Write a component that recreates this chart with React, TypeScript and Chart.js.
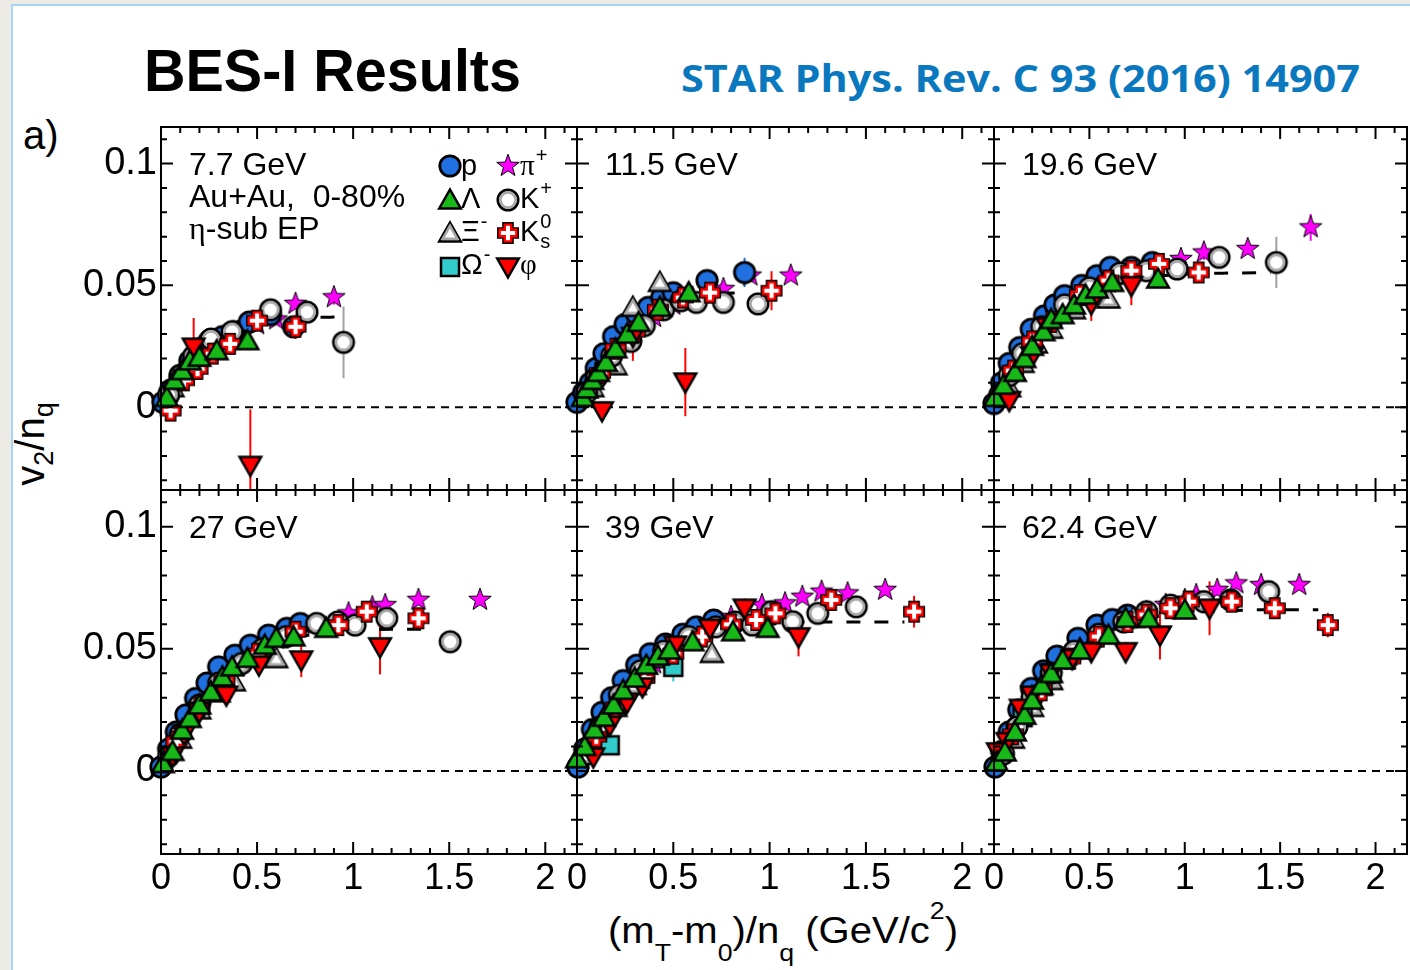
import React, { useEffect, useRef } from 'react';
import { Chart, registerables } from 'chart.js';

Chart.register(...registerables);

type Pt = number[]; // [x, v2/nq, error?]

// ---------------- axis / labels ----------------
const X_MIN = 0;
const X_MAX = 2.165;
const Y_MIN = -0.034;
const Y_MAX = 0.115;
const xTickValues = [0, 0.5, 1, 1.5, 2];
const xTickLabels = ['0', '0.5', '1', '1.5', '2'];
const yTickValues = [0, 0.05, 0.1];
const yTickLabels = ['0', '0.05', '0.1'];
const energyLabels = ['7.7 GeV', '11.5 GeV', '19.6 GeV', '27 GeV', '39 GeV', '62.4 GeV'];

// ---------------- 7.7 GeV ----------------
const proton_7p7: Pt[] = [[0.01, 0.002], [0.05, 0.007], [0.1, 0.013], [0.15, 0.019], [0.2, 0.024], [0.25, 0.027], [0.32, 0.029], [0.38, 0.031], [0.46, 0.035], [0.57, 0.038], [0.69, 0.033]];
const lambda_7p7: Pt[] = [[0.03, 0.004], [0.07, 0.011], [0.11, 0.015], [0.15, 0.019], [0.2, 0.0205], [0.29, 0.0232], [0.45, 0.0273]];
const xi_7p7: Pt[] = [[0.06, 0.008], [0.13, 0.016]];
const omega_7p7: Pt[] = [];
const pion_7p7: Pt[] = [[0.05, 0.006], [0.12, 0.015], [0.2, 0.022], [0.3, 0.028], [0.4, 0.031], [0.5, 0.034], [0.6, 0.036], [0.7, 0.0424, 0.002], [0.9, 0.0451, 0.003]];
const kaon_7p7: Pt[] = [[0.04, 0.005], [0.1, 0.013], [0.17, 0.021], [0.26, 0.028], [0.37, 0.031], [0.57, 0.04, 0.002], [0.76, 0.039, 0.003], [0.95, 0.0266, 0.0147]];
const k0s_7p7: Pt[] = [[0.05, -0.0014, 0.002], [0.12, 0.011], [0.19, 0.0157, 0.003], [0.27, 0.022], [0.36, 0.026], [0.5, 0.0355], [0.7, 0.033, 0.005]];
const phi_7p7: Pt[] = [[0.17, 0.0246, 0.012], [0.465, -0.0239, 0.023]];
const fit_7p7: Pt[] = [[0, 0], [0.1, 0.013], [0.2, 0.022], [0.3, 0.028], [0.4, 0.032], [0.5, 0.0345], [0.6, 0.036], [0.7, 0.0365], [0.8, 0.0368], [0.92, 0.037]];

// ---------------- 11.5 GeV ----------------
const proton_11p5: Pt[] = [[0.0, 0.002], [0.035, 0.006], [0.07, 0.01], [0.1, 0.016], [0.14, 0.022], [0.19, 0.029], [0.25, 0.034], [0.31, 0.038], [0.37, 0.041], [0.44, 0.045], [0.5, 0.047], [0.675, 0.052], [0.87, 0.0553, 0.006]];
const lambda_11p5: Pt[] = [[0.03, 0.004], [0.05, 0.0075], [0.08, 0.011], [0.11, 0.0143], [0.15, 0.0184], [0.2, 0.024], [0.26, 0.03], [0.32, 0.0348], [0.43, 0.041], [0.58, 0.047]];
const xi_11p5: Pt[] = [[0.08, 0.008], [0.2, 0.017], [0.29, 0.041], [0.43, 0.0512, 0.003]];
const omega_11p5: Pt[] = [];
const pion_11p5: Pt[] = [[0.1, 0.013], [0.2, 0.024], [0.3, 0.031], [0.4, 0.037], [0.5, 0.042], [0.6, 0.045], [0.76, 0.0485], [0.9, 0.054], [1.11, 0.054]];
const kaon_11p5: Pt[] = [[0.05, 0.006], [0.1, 0.012], [0.18, 0.021], [0.28, 0.027], [0.35, 0.0335], [0.45, 0.04], [0.54, 0.0437], [0.62, 0.043], [0.76, 0.043], [0.94, 0.0424, 0.003]];
const k0s_11p5: Pt[] = [[0.12, 0.014], [0.2, 0.024], [0.3, 0.031], [0.42, 0.04], [0.55, 0.045], [0.69, 0.047], [1.01, 0.0478, 0.008]];
const phi_11p5: Pt[] = [[0.13, -0.0015, 0.003], [0.29, 0.029, 0.01], [0.5625, 0.0103, 0.014]];
const fit_11p5: Pt[] = [[0, 0], [0.1, 0.016], [0.2, 0.027], [0.3, 0.035], [0.4, 0.04], [0.5, 0.0435], [0.6, 0.0455], [0.7, 0.0465], [0.87, 0.047]];

// ---------------- 19.6 GeV ----------------
const proton_19p6: Pt[] = [[0.0, 0.0015], [0.04, 0.01], [0.08, 0.018], [0.135, 0.0245], [0.195, 0.032], [0.265, 0.0375], [0.32, 0.042], [0.37, 0.0458], [0.46, 0.05], [0.54, 0.054], [0.61, 0.0574], [0.72, 0.0574], [0.83, 0.0594]];
const lambda_19p6: Pt[] = [[0.005, 0.004], [0.05, 0.009], [0.11, 0.0143], [0.16, 0.02], [0.2, 0.025], [0.26, 0.031], [0.3, 0.036], [0.36, 0.038], [0.42, 0.042], [0.48, 0.046], [0.54, 0.0485], [0.62, 0.0512], [0.86, 0.0526, 0.003]];
const xi_19p6: Pt[] = [[0.08, 0.008], [0.15, 0.018], [0.22, 0.026], [0.3, 0.032], [0.42, 0.04], [0.6, 0.0444, 0.004]];
const omega_19p6: Pt[] = [];
const pion_19p6: Pt[] = [[0.1, 0.015], [0.2, 0.027], [0.3, 0.035], [0.4, 0.041], [0.5, 0.047], [0.6, 0.051], [0.7, 0.054], [0.8, 0.057], [0.98, 0.0608], [1.1, 0.0635, 0.003], [1.33, 0.0649], [1.66, 0.0738, 0.0055]];
const kaon_19p6: Pt[] = [[0.03, 0.005], [0.08, 0.013], [0.15, 0.022], [0.25, 0.033], [0.37, 0.042], [0.5, 0.049], [0.66, 0.055], [0.8, 0.056], [0.96, 0.0567], [1.18, 0.0615, 0.002], [1.48, 0.0594, 0.0105]];
const k0s_19p6: Pt[] = [[0.1, 0.015], [0.2, 0.027], [0.3, 0.035], [0.45, 0.046], [0.6, 0.052], [0.72, 0.056], [0.865, 0.0588], [1.073, 0.0553, 0.003]];
const phi_19p6: Pt[] = [[0.08, 0.0027, 0.002], [0.2, 0.021, 0.002], [0.28, 0.033, 0.003], [0.51, 0.0424, 0.007], [0.72, 0.0499, 0.008]];
const fit_19p6: Pt[] = [[0, 0], [0.1, 0.016], [0.2, 0.028], [0.3, 0.037], [0.4, 0.043], [0.5, 0.047], [0.6, 0.05], [0.7, 0.052], [0.8, 0.053], [0.9, 0.054], [1.0, 0.0545], [1.2, 0.055], [1.45, 0.0552]];

// ---------------- 27 GeV ----------------
const proton_27: Pt[] = [[0.0, 0.0016], [0.04, 0.009], [0.08, 0.016], [0.13, 0.023], [0.18, 0.0297], [0.24, 0.036], [0.3, 0.0426], [0.385, 0.0474], [0.465, 0.0515], [0.56, 0.0556], [0.655, 0.0584], [0.725, 0.0604]];
const lambda_27: Pt[] = [[0.01, 0.003], [0.06, 0.008], [0.11, 0.0167], [0.15, 0.0215], [0.2, 0.027], [0.26, 0.0324], [0.32, 0.0385], [0.37, 0.0426], [0.45, 0.0461], [0.54, 0.0515], [0.6, 0.0543], [0.69, 0.0549], [0.86, 0.0584]];
const xi_27: Pt[] = [[0.1, 0.013], [0.2, 0.025], [0.3, 0.032], [0.38, 0.0365], [0.6, 0.046]];
const omega_27: Pt[] = [];
const pion_27: Pt[] = [[0.1, 0.015], [0.2, 0.027], [0.3, 0.036], [0.4, 0.043], [0.5, 0.049], [0.6, 0.054], [0.7, 0.057], [0.8, 0.06], [0.976, 0.0645], [1.1, 0.067], [1.167, 0.0679], [1.34, 0.07], [1.66, 0.07]];
const kaon_27: Pt[] = [[0.04, 0.006], [0.1, 0.015], [0.2, 0.027], [0.3, 0.036], [0.42, 0.044], [0.53, 0.05], [0.65, 0.055], [0.81, 0.0604], [0.92, 0.061], [1.01, 0.0597], [1.175, 0.0625], [1.505, 0.0529, 0.004]];
const k0s_27: Pt[] = [[0.08, 0.012], [0.2, 0.026], [0.33, 0.037], [0.5, 0.048], [0.7, 0.057], [0.923, 0.0597], [1.071, 0.0652, 0.003], [1.34, 0.0625, 0.003]];
const phi_27: Pt[] = [[0.06, 0.006], [0.12, 0.015], [0.2, 0.0242], [0.34, 0.031, 0.002], [0.51, 0.0433, 0.002], [0.73, 0.0454, 0.007], [1.14, 0.0508, 0.0113]];
const fit_27: Pt[] = [[0, 0], [0.1, 0.015], [0.2, 0.027], [0.3, 0.036], [0.4, 0.043], [0.5, 0.048], [0.6, 0.052], [0.7, 0.0545], [0.8, 0.056], [0.9, 0.057], [1.0, 0.0575], [1.2, 0.058], [1.4, 0.058]];

// ---------------- 39 GeV ----------------
const proton_39: Pt[] = [[0.005, 0.0016], [0.04, 0.009], [0.08, 0.017], [0.13, 0.024], [0.18, 0.03], [0.24, 0.037], [0.31, 0.0433], [0.38, 0.048], [0.46, 0.052], [0.55, 0.056], [0.62, 0.059], [0.71, 0.0618]];
const lambda_39: Pt[] = [[0.0, 0.005], [0.04, 0.01], [0.09, 0.017], [0.14, 0.022], [0.19, 0.027], [0.24, 0.033], [0.3, 0.038], [0.36, 0.0433], [0.42, 0.047], [0.48, 0.0495], [0.6, 0.0529], [0.81, 0.057], [0.99, 0.0584]];
const xi_39: Pt[] = [[0.1, 0.014], [0.2, 0.026], [0.3, 0.035], [0.45, 0.046], [0.7, 0.0481, 0.002]];
const omega_39: Pt[] = [[0.17, 0.0105, 0.003], [0.5, 0.0426, 0.006]];
const pion_39: Pt[] = [[0.1, 0.015], [0.2, 0.027], [0.3, 0.036], [0.4, 0.044], [0.5, 0.05], [0.6, 0.055], [0.7, 0.059], [0.8, 0.063], [0.96, 0.0679], [1.08, 0.0686], [1.17, 0.0713], [1.27, 0.0734], [1.405, 0.0727], [1.6, 0.0741]];
const kaon_39: Pt[] = [[0.05, 0.007], [0.12, 0.018], [0.22, 0.031], [0.33, 0.041], [0.45, 0.049], [0.58, 0.055], [0.72, 0.059], [0.82, 0.061], [0.91, 0.0597], [1.01, 0.0652], [1.12, 0.0611], [1.25, 0.0645], [1.45, 0.0672]];
const k0s_39: Pt[] = [[0.1, 0.014], [0.2, 0.026], [0.35, 0.038], [0.5, 0.048], [0.65, 0.055], [0.8, 0.06], [0.93, 0.0618], [1.03, 0.0645], [1.32, 0.07], [1.75, 0.0652, 0.0065]];
const phi_39: Pt[] = [[0.085, 0.0057], [0.17, 0.0187], [0.26, 0.028], [0.34, 0.0344], [0.51, 0.0515, 0.002], [0.69, 0.0584, 0.002], [0.87, 0.0666, 0.004], [1.15, 0.0549, 0.008]];
const fit_39: Pt[] = [[0, 0], [0.1, 0.016], [0.2, 0.029], [0.3, 0.038], [0.4, 0.045], [0.5, 0.05], [0.6, 0.054], [0.7, 0.057], [0.8, 0.0585], [0.9, 0.0595], [1.0, 0.06], [1.2, 0.061], [1.4, 0.061], [1.7, 0.061]];

// ---------------- 62.4 GeV ----------------
const proton_62p4: Pt[] = [[0.005, 0.0016], [0.04, 0.008], [0.08, 0.016], [0.13, 0.025], [0.196, 0.0338], [0.26, 0.041], [0.33, 0.047], [0.44, 0.0543], [0.54, 0.0597], [0.62, 0.062], [0.7, 0.0638]];
const lambda_62p4: Pt[] = [[0.014, 0.0037], [0.057, 0.0078], [0.11, 0.016], [0.16, 0.0228], [0.2, 0.029], [0.25, 0.035], [0.3, 0.0399], [0.36, 0.0454], [0.45, 0.0495], [0.6, 0.0556], [0.69, 0.0625], [0.81, 0.0625], [1.0, 0.0659]];
const xi_62p4: Pt[] = [[0.1, 0.013], [0.2, 0.026], [0.3, 0.037], [0.45, 0.05], [0.73, 0.0625]];
const omega_62p4: Pt[] = [[0.15, 0.022], [0.3, 0.04]];
const pion_62p4: Pt[] = [[0.1, 0.016], [0.2, 0.029], [0.3, 0.039], [0.4, 0.047], [0.5, 0.053], [0.6, 0.058], [0.7, 0.062], [0.8, 0.065], [0.9, 0.068], [1.0, 0.07], [1.06, 0.072], [1.17, 0.0741], [1.27, 0.0768], [1.4, 0.0761], [1.6, 0.0761]];
const kaon_62p4: Pt[] = [[0.05, 0.007], [0.12, 0.018], [0.2, 0.03], [0.3, 0.04], [0.42, 0.049], [0.55, 0.056], [0.68, 0.061], [0.8, 0.0652], [0.925, 0.0679], [1.1, 0.0693], [1.24, 0.07], [1.44, 0.0734, 0.003]];
const k0s_62p4: Pt[] = [[0.1, 0.015], [0.25, 0.033], [0.4, 0.046], [0.55, 0.055], [0.7, 0.061], [0.8, 0.064], [0.925, 0.0666], [1.021, 0.0693], [1.246, 0.0693], [1.472, 0.0666, 0.003], [1.75, 0.0597, 0.005]];
const phi_62p4: Pt[] = [[0.02, 0.0078], [0.07, 0.012], [0.14, 0.0256], [0.2, 0.031], [0.3, 0.04], [0.41, 0.046], [0.51, 0.0488, 0.003], [0.69, 0.0488, 0.004], [0.87, 0.0556, 0.01], [1.13, 0.0666, 0.011]];
const fit_62p4: Pt[] = [[0, 0], [0.1, 0.016], [0.2, 0.03], [0.3, 0.04], [0.4, 0.047], [0.5, 0.053], [0.6, 0.057], [0.7, 0.06], [0.8, 0.062], [0.9, 0.064], [1.0, 0.065], [1.2, 0.0655], [1.4, 0.066], [1.7, 0.066]];

const PANELS: any[] = [
  { p: proton_7p7, lam: lambda_7p7, xi: xi_7p7, om: omega_7p7, pi: pion_7p7, k: kaon_7p7, k0: k0s_7p7, phi: phi_7p7, fit: fit_7p7 },
  { p: proton_11p5, lam: lambda_11p5, xi: xi_11p5, om: omega_11p5, pi: pion_11p5, k: kaon_11p5, k0: k0s_11p5, phi: phi_11p5, fit: fit_11p5 },
  { p: proton_19p6, lam: lambda_19p6, xi: xi_19p6, om: omega_19p6, pi: pion_19p6, k: kaon_19p6, k0: k0s_19p6, phi: phi_19p6, fit: fit_19p6 },
  { p: proton_27, lam: lambda_27, xi: xi_27, om: omega_27, pi: pion_27, k: kaon_27, k0: k0s_27, phi: phi_27, fit: fit_27 },
  { p: proton_39, lam: lambda_39, xi: xi_39, om: omega_39, pi: pion_39, k: kaon_39, k0: k0s_39, phi: phi_39, fit: fit_39 },
  { p: proton_62p4, lam: lambda_62p4, xi: xi_62p4, om: omega_62p4, pi: pion_62p4, k: kaon_62p4, k0: k0s_62p4, phi: phi_62p4, fit: fit_62p4 },
];

// species: drawing order (higher order = drawn underneath)
const SPECIES = [
  { key: 'pi', err: '#ff00ff', order: 12 },
  { key: 'p', err: '#2070e0', order: 11 },
  { key: 'xi', err: '#a0a0a0', order: 10 },
  { key: 'om', err: '#33cccc', order: 9 },
  { key: 'k', err: '#a0a0a0', order: 8 },
  { key: 'k0', err: '#ff0000', order: 7 },
  { key: 'phi', err: '#ff0000', order: 6 },
  { key: 'lam', err: '#18b818', order: 5 },
];

// ---------------- layout ----------------
const FONT = '"Liberation Sans", Arial, Helvetica, sans-serif';
const SERIF = '"Liberation Serif", "Times New Roman", serif';
const COL_L = [161, 577, 994];
const COL_R = [577, 994, 1407];
const ROW_T = [127, 490];
const ROW_B = [490, 854];
const Y_AXIS_W = 110;
const PAD = 40;
const X_AXIS_H = 64;

function geom(i: number) {
  const r = Math.floor(i / 3);
  const c = i % 3;
  const left = c === 0 ? COL_L[0] - Y_AXIS_W : COL_L[c] - PAD;
  const right = COL_R[c] + PAD;
  const top = ROW_T[r] - PAD;
  const bottom = r === 1 ? ROW_B[r] + X_AXIS_H : ROW_B[r] + PAD;
  return { r, c, left, top, w: right - left, h: bottom - top };
}

// ---------------- markers ----------------
function mk(draw: (g: CanvasRenderingContext2D) => void): HTMLCanvasElement {
  const c = document.createElement('canvas');
  c.width = 32;
  c.height = 32;
  const g = c.getContext('2d')!;
  g.translate(16, 16);
  g.lineJoin = 'miter';
  draw(g);
  return c;
}

function buildMarkers(): Record<string, HTMLCanvasElement> {
  const circ = (g: CanvasRenderingContext2D, r: number) => { g.beginPath(); g.arc(0, 0, r, 0, Math.PI * 2); };
  const tri = (g: CanvasRenderingContext2D, s: number, d: number) => {
    g.beginPath(); g.moveTo(0, -d * 10.5 * s); g.lineTo(10.8 * s, d * 8.5 * s); g.lineTo(-10.8 * s, d * 8.5 * s); g.closePath();
  };
  const plus = (g: CanvasRenderingContext2D, a: number, L: number) => {
    g.beginPath();
    const pts = [[-a, -L], [a, -L], [a, -a], [L, -a], [L, a], [a, a], [a, L], [-a, L], [-a, a], [-L, a], [-L, -a], [-a, -a]];
    pts.forEach(([x, y], i) => (i ? g.lineTo(x, y) : g.moveTo(x, y)));
    g.closePath();
  };
  return {
    p: mk((g) => { circ(g, 10.2); g.fillStyle = '#2070e0'; g.fill(); g.lineWidth = 2.8; g.strokeStyle = '#000'; g.stroke(); }),
    k: mk((g) => {
      circ(g, 10.2); g.fillStyle = '#fff'; g.fill(); g.lineWidth = 2.6; g.strokeStyle = '#000'; g.stroke();
      circ(g, 7.6); g.lineWidth = 2.6; g.strokeStyle = '#a8a8a8'; g.stroke();
    }),
    lam: mk((g) => { tri(g, 1, 1); g.fillStyle = '#18b818'; g.fill(); g.lineWidth = 2.5; g.strokeStyle = '#000'; g.stroke(); }),
    xi: mk((g) => {
      tri(g, 1, 1); g.fillStyle = '#fff'; g.fill(); g.lineWidth = 2.5; g.strokeStyle = '#000'; g.stroke();
      tri(g, 0.68, 1); g.lineWidth = 2.5; g.strokeStyle = '#a8a8a8'; g.stroke();
    }),
    phi: mk((g) => { tri(g, 1, -1); g.fillStyle = '#ff0000'; g.fill(); g.lineWidth = 2.5; g.strokeStyle = '#000'; g.stroke(); }),
    om: mk((g) => { g.beginPath(); g.rect(-9, -9, 18, 18); g.fillStyle = '#33cccc'; g.fill(); g.lineWidth = 2.5; g.strokeStyle = '#000'; g.stroke(); }),
    pi: mk((g) => {
      g.beginPath();
      for (let k = 0; k < 10; k++) {
        const ang = -Math.PI / 2 + (k * Math.PI) / 5;
        const rr = k % 2 === 0 ? 11.8 : 4.8;
        const x = rr * Math.cos(ang), y = rr * Math.sin(ang);
        if (k) g.lineTo(x, y); else g.moveTo(x, y);
      }
      g.closePath(); g.fillStyle = '#ff00ff'; g.fill(); g.lineWidth = 1; g.strokeStyle = '#000'; g.stroke();
    }),
    k0: mk((g) => {
      plus(g, 5.8, 11); g.fillStyle = '#000'; g.fill();
      plus(g, 4.4, 9.6); g.fillStyle = '#ff0000'; g.fill();
      plus(g, 2, 7.2); g.fillStyle = '#fff'; g.fill();
    }),
  };
}

const labelFor = (vals: number[], labels: string[], v: number) => {
  const i = vals.findIndex((t) => Math.abs(t - v) < 1e-9);
  return i < 0 ? '' : labels[i];
};

// rich text: [text, kind] kind: n (sans), g (serif greek), sup, sub, supsub ("a|b")
function drawRich(ctx: CanvasRenderingContext2D, x: number, y: number, parts: [string, string][], size: number) {
  let cx = x;
  parts.forEach(([t, kind]) => {
    if (kind === 'n' || kind === 'g') {
      ctx.font = `${size}px ${kind === 'g' ? SERIF : FONT}`;
      ctx.fillText(t, cx, y);
      cx += ctx.measureText(t).width;
    } else if (kind === 'sup') {
      ctx.font = `${Math.round(size * 0.68)}px ${FONT}`;
      ctx.fillText(t, cx + 1, y - size * 0.45);
      cx += ctx.measureText(t).width + 1;
    } else if (kind === 'sub') {
      ctx.font = `${Math.round(size * 0.68)}px ${FONT}`;
      ctx.fillText(t, cx + 1, y + size * 0.25);
      cx += ctx.measureText(t).width + 1;
    } else if (kind === 'supsub') {
      const [a, b] = t.split('|');
      ctx.font = `${Math.round(size * 0.68)}px ${FONT}`;
      ctx.fillText(a, cx + 1, y - size * 0.45);
      ctx.fillText(b, cx + 1, y + size * 0.25);
      cx += Math.max(ctx.measureText(a).width, ctx.measureText(b).width) + 1;
    }
  });
}

const LEGEND: { key: string; col: number; row: number; parts: [string, string][] }[] = [
  { key: 'p', col: 0, row: 0, parts: [['p', 'n']] },
  { key: 'lam', col: 0, row: 1, parts: [['Λ', 'n']] },
  { key: 'xi', col: 0, row: 2, parts: [['Ξ', 'n'], ['-', 'sup']] },
  { key: 'om', col: 0, row: 3, parts: [['Ω', 'n'], ['-', 'sup']] },
  { key: 'pi', col: 1, row: 0, parts: [['π', 'g'], ['+', 'sup']] },
  { key: 'k', col: 1, row: 1, parts: [['K', 'n'], ['+', 'sup']] },
  { key: 'k0', col: 1, row: 2, parts: [['K', 'n'], ['0|s', 'supsub']] },
  { key: 'phi', col: 1, row: 3, parts: [['φ', 'g']] },
];

function makePlugin(idx: number, markers: Record<string, HTMLCanvasElement>) {
  return {
    id: 'panelDecor' + idx,
    beforeDatasetsDraw(chart: any) {
      const { ctx, chartArea: a, scales } = chart;
      const xs = scales.x, ys = scales.y;
      ctx.save();
      ctx.beginPath();
      ctx.rect(a.left, a.top, a.right - a.left, a.bottom - a.top);
      ctx.clip();
      // zero line
      ctx.strokeStyle = '#000';
      ctx.lineWidth = 2;
      ctx.setLineDash([8, 6]);
      const y0 = ys.getPixelForValue(0);
      ctx.beginPath();
      ctx.moveTo(a.left, y0);
      ctx.lineTo(a.right, y0);
      ctx.stroke();
      ctx.setLineDash([]);
      // error bars
      chart.data.datasets.forEach((ds: any) => {
        if (!ds.errorBars) return;
        ctx.strokeStyle = ds.errorColor;
        ctx.lineWidth = 2;
        ds.data.forEach((pt: any, i: number) => {
          const e = ds.errorBars[i];
          if (!e) return;
          const px = xs.getPixelForValue(pt.x);
          ctx.beginPath();
          ctx.moveTo(px, ys.getPixelForValue(pt.y - e));
          ctx.lineTo(px, ys.getPixelForValue(pt.y + e));
          ctx.stroke();
        });
      });
      ctx.restore();
    },
    afterDraw(chart: any) {
      const { ctx, chartArea: a, scales } = chart;
      const xs = scales.x, ys = scales.y;
      ctx.save();
      ctx.strokeStyle = '#000';
      ctx.lineWidth = 2;
      ctx.setLineDash([]);
      ctx.strokeRect(a.left, a.top, a.right - a.left, a.bottom - a.top);
      ctx.beginPath();
      for (let k = 0; k <= 30; k++) {
        const v = k / 10;
        if (v > X_MAX) break;
        const px = xs.getPixelForValue(v);
        const len = k % 5 === 0 ? 12 : 6;
        ctx.moveTo(px, a.bottom); ctx.lineTo(px, a.bottom - len);
        ctx.moveTo(px, a.top); ctx.lineTo(px, a.top + len);
      }
      for (let k = -3; k <= 11; k++) {
        const py = ys.getPixelForValue(k / 100);
        const len = k % 5 === 0 ? 12 : 6;
        ctx.moveTo(a.left, py); ctx.lineTo(a.left + len, py);
        ctx.moveTo(a.right, py); ctx.lineTo(a.right - len, py);
      }
      ctx.stroke();

      ctx.fillStyle = '#000';
      ctx.textAlign = 'left';
      ctx.textBaseline = 'alphabetic';
      ctx.font = `32px ${FONT}`;
      ctx.fillText(energyLabels[idx], a.left + 28, a.top + 48);
      if (idx === 0) {
        ctx.fillText('Au+Au,  0-80%', a.left + 28, a.top + 80);
        ctx.font = `32px ${SERIF}`;
        ctx.fillText('η', a.left + 28, a.top + 112);
        const w = ctx.measureText('η').width;
        ctx.font = `32px ${FONT}`;
        ctx.fillText('-sub EP', a.left + 28 + w, a.top + 112);
        // legend
        const mx = [289, 347];
        const tx = [300, 359];
        const my = [39, 73, 106, 140];
        const by = [48, 81, 114, 147];
        LEGEND.forEach((it) => {
          const m = markers[it.key];
          ctx.drawImage(m, a.left + mx[it.col] - 16, a.top + my[it.row] - 16);
          drawRich(ctx, a.left + tx[it.col], a.top + by[it.row], it.parts, 29);
        });
      }
      ctx.restore();
    },
  };
}

function makeConfig(idx: number, markers: Record<string, HTMLCanvasElement>): any {
  const g = geom(idx);
  const panel = PANELS[idx];
  const datasets: any[] = [];
  datasets.push({
    label: 'NCQ fit',
    data: panel.fit.map((p: Pt) => ({ x: p[0], y: p[1] })),
    showLine: true,
    borderColor: '#000',
    borderWidth: 3,
    borderDash: [14, 14],
    pointRadius: 0,
    cubicInterpolationMode: 'monotone',
    order: 20,
  });
  SPECIES.forEach((sp) => {
    const pts: Pt[] = panel[sp.key];
    datasets.push({
      label: sp.key,
      data: pts.map((p) => ({ x: p[0], y: p[1] })),
      errorBars: pts.map((p) => p[2] || 0),
      errorColor: sp.err,
      pointStyle: markers[sp.key],
      pointRadius: 11,
      showLine: false,
      order: sp.order,
      clip: 14,
    });
  });
  return {
    type: 'scatter',
    data: { datasets },
    options: {
      animation: false,
      responsive: false,
      maintainAspectRatio: false,
      devicePixelRatio: 1,
      events: [],
      layout: { padding: { left: g.c === 0 ? 0 : PAD, right: PAD, top: PAD, bottom: g.r === 1 ? 0 : PAD } },
      plugins: { legend: { display: false }, tooltip: { enabled: false }, title: { display: false } },
      scales: {
        x: {
          type: 'linear', min: X_MIN, max: X_MAX, display: g.r === 1,
          grid: { display: false, drawTicks: false }, border: { display: false },
          ticks: {
            autoSkip: false, maxRotation: 0, minRotation: 0, padding: 3, color: '#000',
            font: { family: FONT, size: 36 },
            callback: (v: number) => labelFor(xTickValues, xTickLabels, v),
          },
          afterBuildTicks: (s: any) => { s.ticks = xTickValues.map((v) => ({ value: v })); },
          afterFit: g.r === 1 ? (s: any) => { s.height = X_AXIS_H; } : undefined,
        },
        y: {
          type: 'linear', min: Y_MIN, max: Y_MAX, display: g.c === 0,
          grid: { display: false, drawTicks: false }, border: { display: false },
          ticks: {
            autoSkip: false, padding: 4, color: '#000',
            font: { family: FONT, size: 38 },
            callback: (v: number) => labelFor(yTickValues, yTickLabels, v),
          },
          afterBuildTicks: (s: any) => { s.ticks = yTickValues.map((v) => ({ value: v })); },
          afterFit: g.c === 0 ? (s: any) => { s.width = Y_AXIS_W; } : undefined,
        },
      },
    },
    plugins: [makePlugin(idx, markers)],
  };
}

export default function App() {
  const refs = useRef<(HTMLCanvasElement | null)[]>([]);
  useEffect(() => {
    const markers = buildMarkers();
    const charts = PANELS.map((_, i) => new Chart(refs.current[i] as HTMLCanvasElement, makeConfig(i, markers)));
    return () => charts.forEach((c) => c.destroy());
  }, []);

  const sans = '"Liberation Sans", Arial, Helvetica, sans-serif';
  return (
    <div style={{ position: 'absolute', left: 0, top: 0, width: 1410, height: 970, overflow: 'hidden', background: '#edebe5' }}>
      <div style={{ position: 'absolute', left: 11, top: 4, right: 0, bottom: 0, background: '#ffffff', borderLeft: '2px solid #a6d6f2', borderTop: '2px solid #a6d6f2' }} />
      <svg width={1410} height={970} style={{ position: 'absolute', left: 0, top: 0 }}>
        <text x={144} y={91} fontFamily={sans} fontWeight="bold" fontSize={60} textLength={377} lengthAdjust="spacingAndGlyphs" fill="#000">BES-I Results</text>
        <text x={681} y={92} fontFamily={'"Open Sans", "Noto Sans", sans-serif'} fontWeight={700} fontSize={37} textLength={679} lengthAdjust="spacingAndGlyphs" fill="#0a78be">STAR Phys. Rev. C 93 (2016) 14907</text>
        <text x={23} y={149} fontFamily={sans} fontSize={40} fill="#000">a)</text>
        <text transform="translate(44,444) rotate(-90)" textAnchor="middle" fontFamily={sans} fontSize={40} fill="#000">
          v<tspan fontSize={27} dy={9}>2</tspan><tspan dy={-9}>/n</tspan><tspan fontSize={27} dy={9}>q</tspan>
        </text>
        <text x={783} y={943} textAnchor="middle" fontFamily={sans} fontSize={36} textLength={350} lengthAdjust="spacingAndGlyphs" fill="#000">
          (m<tspan fontSize={24} dy={18}>T</tspan><tspan dy={-18}>-m</tspan><tspan fontSize={24} dy={18}>0</tspan><tspan dy={-18}>)/n</tspan><tspan fontSize={24} dy={18}>q</tspan><tspan dy={-18}>{' (GeV/c'}</tspan><tspan fontSize={24} dy={-24}>2</tspan><tspan dy={24}>)</tspan>
        </text>
      </svg>
      {PANELS.map((_, i) => {
        const g = geom(i);
        return (
          <canvas
            key={i}
            ref={(el) => { refs.current[i] = el; }}
            width={g.w}
            height={g.h}
            style={{ position: 'absolute', left: g.left, top: g.top, width: g.w, height: g.h }}
          />
        );
      })}
    </div>
  );
}
